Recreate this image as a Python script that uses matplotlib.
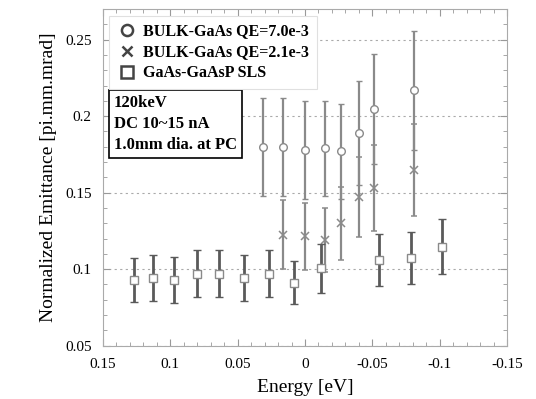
import numpy as np
from matplotlib import pyplot as plt
from matplotlib.lines import Line2D
from matplotlib.ticker import MultipleLocator, FormatStrFormatter

plt.rcParams['font.family'] = ['Liberation Serif', 'DejaVu Serif']
plt.rcParams['axes.unicode_minus'] = False

# BULK-GaAs QE=7.0e-3 (cerchi)
e_qe7 = np.array([0.031, 0.016, 0.000, -0.015, -0.027, -0.040, -0.051, -0.081])
em_qe7 = np.array([0.180, 0.180, 0.178, 0.179, 0.177, 0.189, 0.205, 0.217])
err_qe7 = np.array([0.032, 0.032, 0.032, 0.031, 0.031, 0.034, 0.036, 0.039])

# BULK-GaAs QE=2.1e-3 (croci)
e_qe2 = np.array([0.016, 0.000, -0.015, -0.027, -0.040, -0.051, -0.081])
em_qe2 = np.array([0.1225, 0.1215, 0.119, 0.130, 0.147, 0.153, 0.165])
err_qe2 = np.array([0.0225, 0.022, 0.021, 0.024, 0.026, 0.028, 0.030])

# GaAs-GaAsP SLS (quadrati)
e_sls = np.array([0.127, 0.113, 0.097, 0.080, 0.064, 0.045, 0.027,
                  0.008, -0.012, -0.055, -0.079, -0.102])
em_sls = np.array([0.093, 0.094, 0.093, 0.097, 0.097, 0.094, 0.097,
                   0.091, 0.1005, 0.106, 0.107, 0.1145])
err_sls = np.array([0.0145, 0.015, 0.015, 0.0155, 0.0155, 0.015, 0.0155,
                    0.014, 0.016, 0.017, 0.017, 0.018])

labels = ['BULK-GaAs QE=7.0e-3', 'BULK-GaAs QE=2.1e-3', 'GaAs-GaAsP SLS']

fig = plt.figure(figsize=(5.36, 3.99), dpi=100)
ax = fig.add_axes([0.192, 0.134, 0.754, 0.843])

light = '#8a8a8a'
dark = '#5a5a5a'

ax.errorbar(e_qe7, em_qe7, yerr=err_qe7, fmt='o', mfc='white', mec=light,
            ms=5.5, mew=1.0, ecolor=light, elinewidth=1.6, capsize=2.5,
            capthick=1.4, zorder=3)
ax.errorbar(e_qe2, em_qe2, yerr=err_qe2, fmt='x', mec=light, ms=6, mew=1.1,
            ecolor=light, elinewidth=1.6, capsize=2.5, capthick=1.4, zorder=3)
ax.errorbar(e_sls, em_sls, yerr=err_sls, fmt='s', mfc='white', mec=light,
            ms=5.5, mew=1.0, ecolor=dark, elinewidth=2.0, capsize=3,
            capthick=1.8, zorder=4)

ax.set_xlim(0.15, -0.15)
ax.set_ylim(0.05, 0.27)
ax.xaxis.set_major_locator(MultipleLocator(0.05))
ax.xaxis.set_minor_locator(MultipleLocator(0.01))
ax.yaxis.set_major_locator(MultipleLocator(0.05))
ax.yaxis.set_minor_locator(MultipleLocator(0.01))
ax.xaxis.set_major_formatter(FormatStrFormatter('%g'))
ax.yaxis.set_major_formatter(FormatStrFormatter('%g'))
ax.tick_params(which='both', direction='in', top=True, right=True,
               color='#999999', labelsize=11)
ax.tick_params(which='major', length=5)
ax.tick_params(which='minor', length=3)
ax.tick_params(axis='x', pad=9)
ax.tick_params(axis='y', pad=8)
for s in ax.spines.values():
    s.set_color('#aaaaaa')
ax.yaxis.grid(True, which='major', ls=(0, (2, 3)), color='#aaaaaa', lw=0.8)

ax.set_xlabel('Energy [eV]', fontsize=14, labelpad=6)
ax.set_ylabel('Normalized Emittance [pi.mm.mrad]', fontsize=14, labelpad=6)

handles = [
    Line2D([], [], ls='none', marker='o', mfc='white', mec='#444444',
           ms=8, mew=1.8),
    Line2D([], [], ls='none', marker='x', mec='#444444', ms=6.5, mew=1.8),
    Line2D([], [], ls='none', marker='s', mfc='white', mec='#444444',
           ms=8, mew=1.8),
]
leg = ax.legend(handles, labels, loc='upper left',
                prop={'weight': 'bold', 'size': 11.5},
                handletextpad=0.4, borderpad=0.5, labelspacing=0.3,
                fancybox=False, framealpha=1, borderaxespad=0.4,
                handlelength=1.2)
leg.get_frame().set_edgecolor('#e0e0e0')
leg.get_frame().set_linewidth(0.8)

ax.text(0.027, 0.745, '120keV\nDC 10~15 nA\n1.0mm dia. at PC',
        transform=ax.transAxes, va='top', ha='left', fontsize=12,
        fontweight='bold', linespacing=1.4,
        bbox=dict(boxstyle='square,pad=0.3', fc='white', ec='black', lw=1.2))

plt.savefig('out.png')
